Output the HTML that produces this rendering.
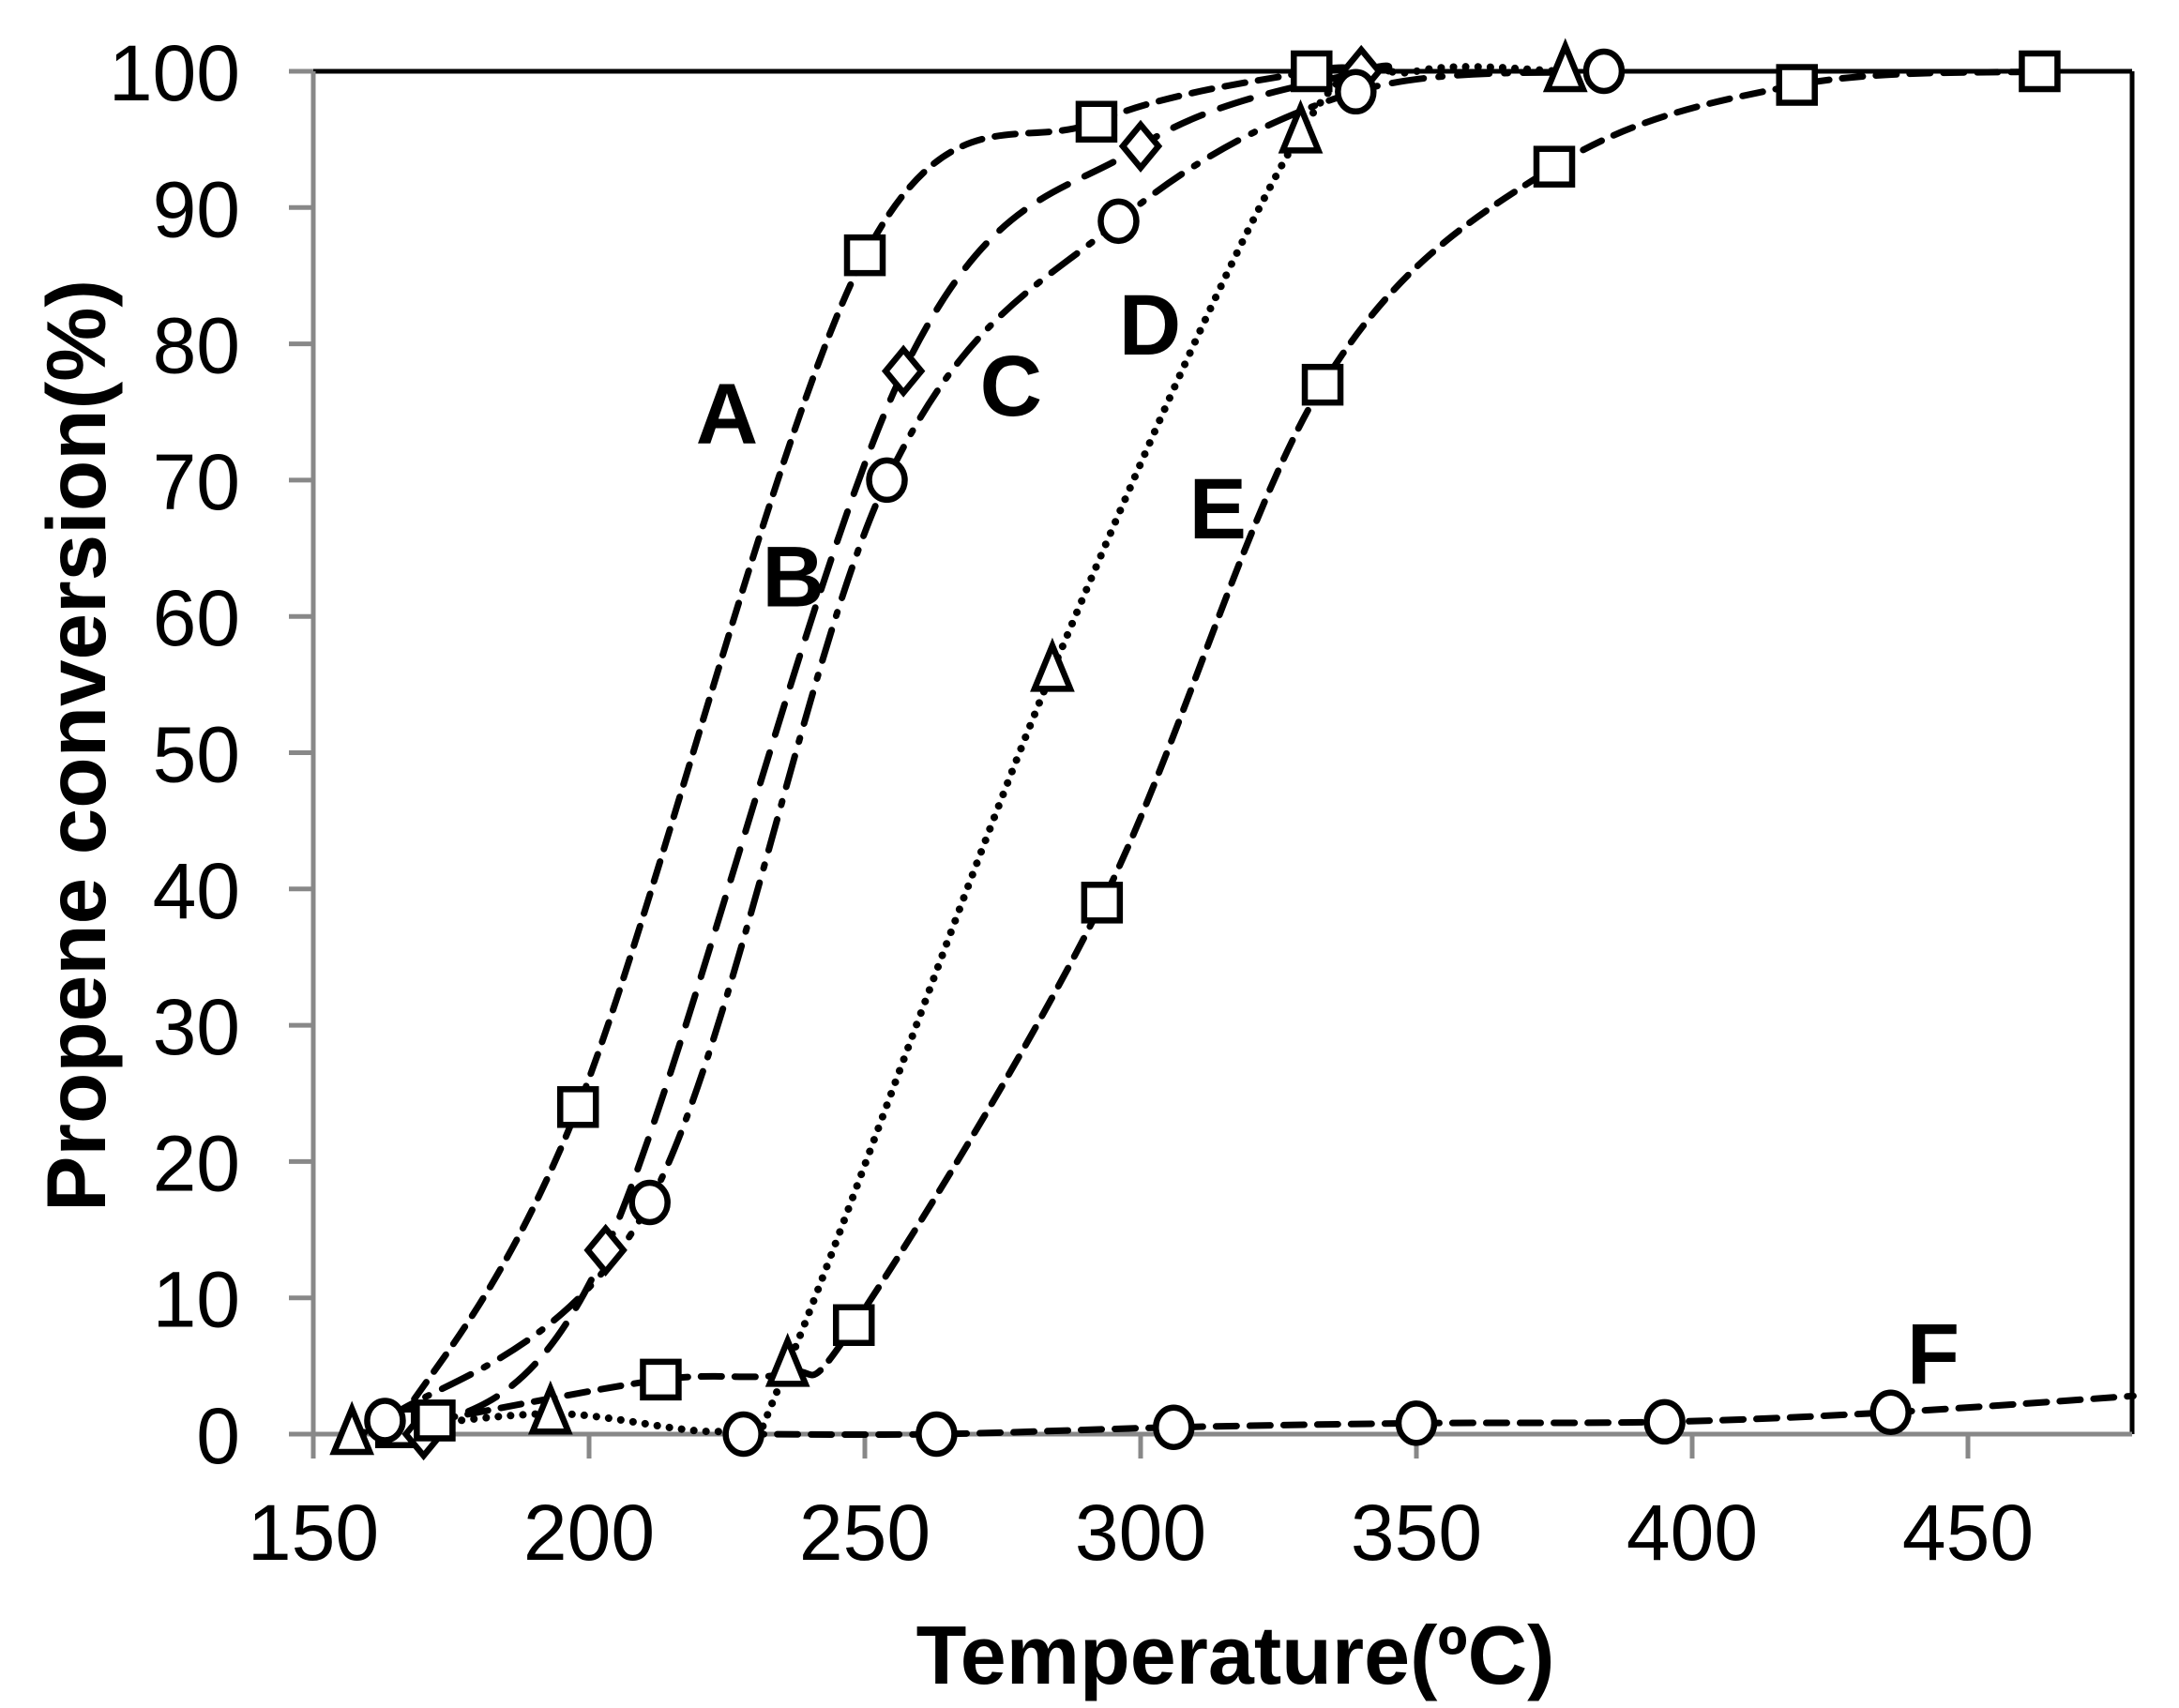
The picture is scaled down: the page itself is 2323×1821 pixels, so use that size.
<!DOCTYPE html>
<html><head><meta charset="utf-8"><style>
html,body{margin:0;padding:0;background:#fff;}
svg{display:block;}
text{font-family:"Liberation Sans",Arial,sans-serif;}
</style></head><body>
<svg id="s" width="2323" height="1821" viewBox="0 0 2323 1821" xmlns="http://www.w3.org/2000/svg">
<rect width="2323" height="1821" fill="#fff"/>
<g id="axes"></g>
<g id="curves" fill="none" stroke="#000" stroke-width="7" stroke-linecap="round"></g>
<g id="marks" fill="#fff" stroke="#000" stroke-width="6.5"></g>
<g id="txt"></g>
</svg>
<script>
const NS="http://www.w3.org/2000/svg";
const X=t=>334+(t-150)*5.88, Y=v=>1529-v*14.53;
function el(p,tag,a,txt){const e=document.createElementNS(NS,tag);for(const k in a)e.setAttribute(k,a[k]);if(txt!==undefined)e.textContent=txt;document.getElementById(p).appendChild(e);return e;}
el('axes','line',{x1:334,y1:76,x2:2273,y2:76,stroke:'#000','stroke-width':5});
el('axes','line',{x1:2273,y1:76,x2:2273,y2:1529,stroke:'#000','stroke-width':5});
el('axes','line',{x1:334,y1:76,x2:334,y2:1555,stroke:'#888','stroke-width':5});
el('axes','line',{x1:308,y1:1529,x2:2273,y2:1529,stroke:'#888','stroke-width':5});
for(let v=0;v<=100;v+=10){el('axes','line',{x1:308,y1:Y(v),x2:334,y2:Y(v),stroke:'#888','stroke-width':5});
 el('txt','text',{x:256,y:Y(v)+31,'font-size':84,'text-anchor':'end'},String(v));}
for(let t=150;t<=450;t+=50){el('axes','line',{x1:X(t),y1:1529,x2:X(t),y2:1555,stroke:'#888','stroke-width':5});
 el('txt','text',{x:X(t),y:1663,'font-size':84,'text-anchor':'middle'},String(t));}
el('txt','text',{x:1317,y:1795,'font-size':88,'font-weight':'bold','text-anchor':'middle'},'Temperature(ºC)');
el('txt','text',{x:0,y:0,'font-size':89,'font-weight':'bold','text-anchor':'middle',transform:'translate(112,795) rotate(-90)'},'Propene conversion(%)');
[['A',225,75],['B',237,63],['C',276.5,77],['D',301.7,81.5],['E',314,68],['F',443.7,6]].forEach(l=>{
 el('txt','text',{x:X(l[1]),y:Y(l[2])+33,'font-size':92,'font-weight':'bold','text-anchor':'middle'},l[0]);});
function path(pts,k){k=k||6;const P=pts.map(p=>[X(p[0]),Y(p[1])]);let d='M'+P[0][0]+','+P[0][1];
 for(let i=0;i<P.length-1;i++){const p0=P[i-1]||P[i],p1=P[i],p2=P[i+1],p3=P[i+2]||P[i+1];
  d+=' C'+(p1[0]+(p2[0]-p0[0])/k)+','+(p1[1]+(p2[1]-p0[1])/k)+' '+(p2[0]-(p3[0]-p1[0])/k)+','+(p2[1]-(p3[1]-p1[1])/k)+' '+p2[0]+','+p2[1];}
 return d;}
function mark(type,t,v){const x=X(t),y=Y(v),r=19;
 if(type=='s')el('marks','rect',{x:x-r,y:y-r,width:2*r,height:2*r});
 else if(type=='c')el('marks','ellipse',{cx:x,cy:y,rx:r,ry:r+2});
 else if(type=='d')el('marks','polygon',{points:`${x},${y-r-4} ${x+r},${y} ${x},${y+r+4} ${x-r},${y}`});
 else el('marks','polygon',{points:`${x},${y-r-8} ${x+r},${y+r} ${x-r},${y+r}`});}
const S=[
 {m:'s',dash:'22 14',w:7,pts:[[165,0.5],[172,1],[198,24],[250,86.5],[292,96.3],[331,100]],line:[[165,0.5],[198,24],[250,86.5],[292,96.3],[331,100],[340,100]]},
 {m:'d',dash:'34 20',w:7,pts:[[170,0],[203,13.5],[257,78],[300,94.5],[340,100]],line:[[170,0],[203,13.5],[257,78],[300,94.5],[340,100],[345,100]]},
 {m:'c',dash:'34 16 4 16',w:7,pts:[[163,1],[211,17],[254,70],[296,89],[339,98.5],[384,100]],line:[[163,1],[211,17],[254,70],[296,89],[339,98.5],[384,100]]},
 {m:'t',dash:'0.1 13',w:8,pts:[[157,0],[193,1.5],[236,5],[284,56],[329,95.5],[377,100]],line:[[157,0],[193,1.5],[226,0.3],[236,5],[284,56],[329,95.5],[350,100],[377,100]]},
 {m:'s',dash:'22 14',w:7,pts:[[172,1],[213,4],[248,8],[293,39],[333,77],[375,93],[419,99],[463,100]],line:[[172,1],[213,4],[236,4.5],[248,8],[293,39],[333,77],[375,93],[419,99],[463,100]]},
 {m:'c',dash:'22 14',w:7,pts:[[228,0],[263,0],[306,0.5],[350,0.8],[395,0.9],[436,1.6]],line:[[228,0],[263,0],[306,0.5],[350,0.8],[395,0.9],[436,1.6],[480,2.8]]}
];
S.forEach(s=>{el('curves','path',{d:path(s.line),'stroke-dasharray':s.dash,'stroke-width':s.w});});
S.forEach(s=>s.pts.forEach(p=>mark(s.m,p[0],p[1])));
</script>
</body></html>
